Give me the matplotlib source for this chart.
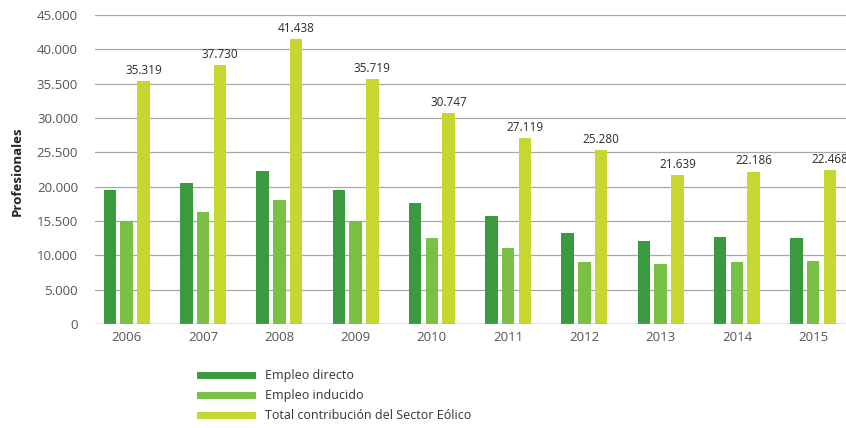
import matplotlib
import matplotlib.pyplot as plt
import numpy as np
from matplotlib.lines import Line2D

matplotlib.use("Agg")

years = ["2006", "2007", "2008", "2009", "2010", "2011", "2012", "2013", "2014", "2015"]
directo = [19500, 20500, 22300, 19500, 17600, 15700, 13300, 12100, 12700, 12500]
inducido = [15000, 16300, 18000, 15000, 12500, 11100, 9000, 8700, 9000, 9200]
total = [35319, 37730, 41438, 35719, 30747, 27119, 25280, 21639, 22186, 22468]
total_labels = ["35.319", "37.730", "41.438", "35.719", "30.747",
                "27.119", "25.280", "21.639", "22.186", "22.468"]
y_ticks = [0, 5000, 10000, 15000, 20000, 25000, 30000, 35000, 40000, 45000]
y_tick_labels = ["0", "5.000", "10.000", "15.500", "20.000", "25.500",
                 "30.000", "35.500", "40.000", "45.000"]
series_names = ["Empleo directo", "Empleo inducido",
                "Total contribución del Sector Eólico"]

_COLORS = ["#3b9a40", "#79c044", "#c6d82f"]
_FONT = ["Open Sans", "DejaVu Sans"]
plt.rcParams["font.family"] = _FONT

fig = plt.figure(figsize=(8.46, 4.28), dpi=100)
ax = fig.add_axes([0.112, 0.243, 0.888, 0.722])

x = np.arange(len(years))
width = 0.165
offset = 0.22
for i, (vals, color) in enumerate(zip([directo, inducido, total], _COLORS)):
    ax.bar(x + (i - 1) * offset, vals, width=width, color=color, zorder=3)

for xi, v, lab in zip(x, total, total_labels):
    ax.annotate(lab, xy=(xi + offset, v), xytext=(0, 3), textcoords="offset points",
                ha="center", va="bottom", fontsize=8.5, color="#2b2b2b")

ax.set_xlim(-0.42, len(years) - 0.57)
ax.set_ylim(0, 45000)
ax.set_yticks(y_ticks)
ax.set_yticklabels(y_tick_labels)
ax.set_xticks(x)
ax.set_xticklabels(years)
ax.tick_params(axis="both", length=0, colors="#555555", labelsize=9.5)
ax.tick_params(axis="y", pad=12)
ax.tick_params(axis="x", pad=5)
ax.grid(axis="y", color="#a8a8a8", linewidth=0.9, zorder=0)
for spine in ax.spines.values():
    spine.set_visible(False)
ax.axhline(0, color="#a8a8a8", linewidth=1.0, zorder=4)

fig.text(0.02, 0.60, "Profesionales", rotation=90, ha="center", va="center",
         fontsize=9.5, fontweight="bold", color="#222222")

handles = [Line2D([0], [0], color=c, linewidth=5) for c in _COLORS]
fig.legend(handles, series_names, loc="upper left", bbox_to_anchor=(0.236, 0.137),
           frameon=False, fontsize=9, handlelength=4.2, handletextpad=1.0,
           labelspacing=0.55, borderaxespad=0, borderpad=0, labelcolor="#333333")

fig.savefig("out.png", dpi=100)
plt.close(fig)
